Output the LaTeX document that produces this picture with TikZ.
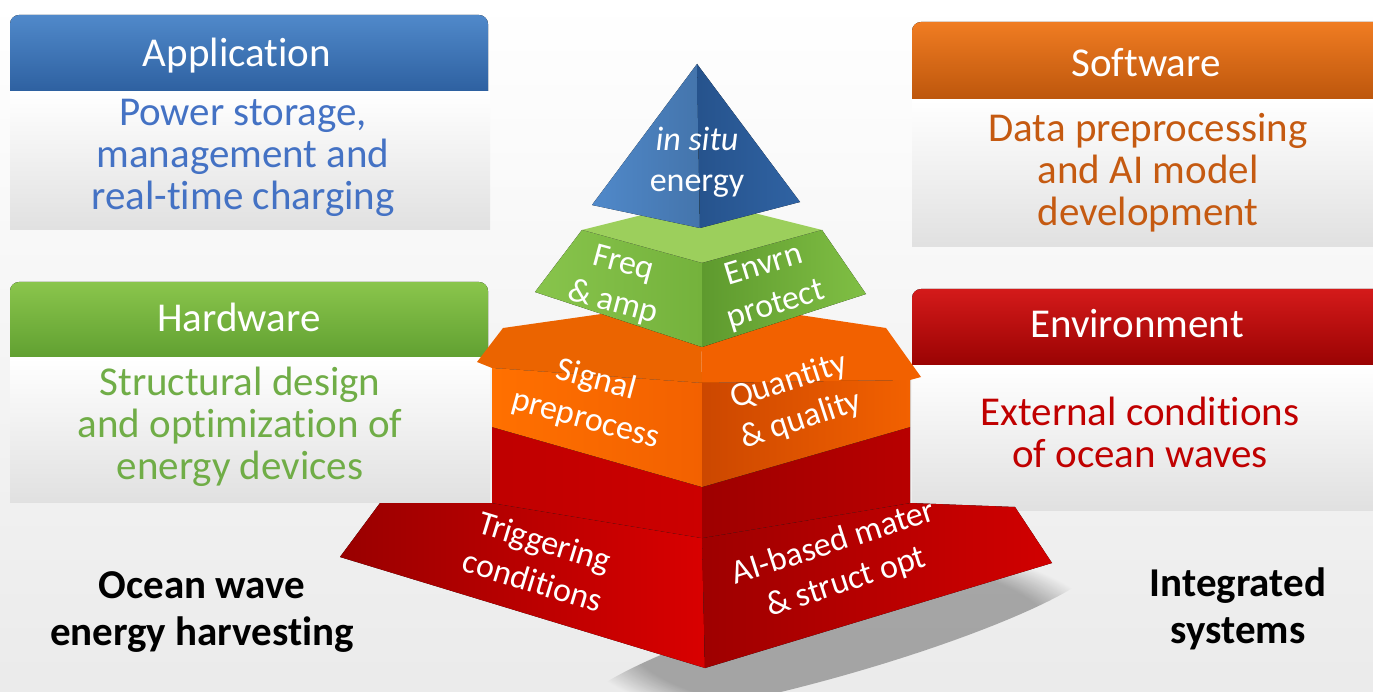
\documentclass[tikz,border=0pt]{standalone}
\usepackage{fontspec}
\setmainfont{Carlito}[Ligatures={NoCommon,NoContextual},RawFeature={-liga;-clig}]
\usepackage{tikz}
\usetikzlibrary{fadings}
\definecolor{apptop}{HTML}{5089CA}
\definecolor{appbot}{HTML}{2A5C9C}
\definecolor{apptext}{HTML}{4472C4}
\definecolor{softop}{HTML}{F07C22}
\definecolor{sofbot}{HTML}{B7520A}
\definecolor{softext}{HTML}{C55A11}
\definecolor{hwtop}{HTML}{8AC54C}
\definecolor{hwbot}{HTML}{5C9C2E}
\definecolor{hwtext}{HTML}{70AD47}
\definecolor{envtop}{HTML}{D41A1A}
\definecolor{envbot}{HTML}{930000}
\definecolor{envtext}{HTML}{C00000}
\definecolor{gtop}{HTML}{9CCF5C}
\definecolor{gleftA}{HTML}{88C44C}
\definecolor{gleftB}{HTML}{74B23C}
\definecolor{grightA}{HTML}{5E9A2E}
\definecolor{grightB}{HTML}{80BF44}

\begin{document}
\begin{tikzpicture}[x=1pt,y=-1pt,
  headtxt/.style={text=white,font=\fontsize{41}{42}\selectfont},
  bodytxt/.style={align=center,font=\fontsize{41}{42}\selectfont},
  facetxt/.style={text=white,align=center,font=\fontsize{34}{41}\selectfont},
  panel/.style={top color=white,bottom color=black!12}]
\useasboundingbox (0,0) rectangle (1373,692);
\fill[top color=white,bottom color=black!8] (0,0) rectangle (1373,692);

% side panels
\fill[rounded corners=9pt,top color=apptop,bottom color=appbot] (10,15) rectangle (488,100);
\fill[panel] (10,92) rectangle (490,230);
\node[headtxt] (app) at (237,56) {Application};
\node[bodytxt,text=apptext] (appbody) at (243,158) {Power storage,\\management and\\real-time charging};

\fill[rounded corners=9pt,top color=hwtop,bottom color=hwbot] (10,282) rectangle (488,366);
\fill[panel] (10,358) rectangle (490,502);
\node[headtxt] (hw) at (239,317) {Hardware};
\node[bodytxt,text=hwtext] (hwbody) at (240,427) {Structural design\\and optimization of\\energy devices};

\fill[rounded corners=9pt,top color=softop,bottom color=sofbot] (912,22) rectangle (1390,108);
\fill[panel] (912,100) rectangle (1373,247);
\node[headtxt] (sof) at (1146,63) {Software};
\node[bodytxt,text=softext] (sofbody) at (1148,173) {Data preprocessing\\and AI model\\development};

\fill[rounded corners=9pt,top color=envtop,bottom color=envbot] (912,289) rectangle (1390,374);
\fill[panel] (912,366) rectangle (1373,510);
\node[headtxt] (env) at (1137,324) {Environment};
\node[bodytxt,text=envtext] (envbody) at (1140,432) {External conditions\\of ocean waves};

% shadow and red base
\fill[black,opacity=.3,path fading=circle with fuzzy edge 20 percent,rotate around={16:(840,635)}] (840,635) ellipse [x radius=270,y radius=40];
\fill[left color=red!60!black,right color=red!85!black] (340,557) -- (380,503) -- (492,503) -- (702,538) -- (705,668) -- cycle;
\fill[left color=red!62!black,right color=red!82!black] (702,538) -- (910,503) -- (1015,507) -- (1052,563) -- (705,668) -- cycle;
% red block
\fill[left color=red!75!black,right color=red!80!black] (492,427) -- (702,487) -- (702,538) -- (492,503) -- cycle;
\fill[left color=red!62!black,right color=red!72!black] (702,487) -- (910,427) -- (910,503) -- (702,538) -- cycle;
% orange layer
\fill[color=orange!85!red!92!black] (477,362) -- (503,328) -- (700,300) -- (702,383) -- (492,368) -- cycle;
\fill[color=orange!80!red!95!black] (702,383) -- (700,300) -- (886,328) -- (921,377) -- (910,380) -- cycle;
\fill[left color=orange!88!red,right color=orange!80!red!95!black] (492,368) -- (702,383) -- (702,487) -- (492,427) -- cycle;
\fill[left color=orange!70!red!80!black,right color=orange!80!red!95!black] (702,383) -- (910,380) -- (910,427) -- (702,487) -- cycle;
% green layer
\fill[gtop] (582,230) -- (702,200) -- (822,230) -- (702,263) -- cycle;
\fill[left color=gleftA,right color=gleftB] (582,230) -- (702,263) -- (702,347) -- (535,292) -- cycle;
\fill[left color=grightA,right color=grightB] (702,263) -- (822,230) -- (866,294) -- (702,347) -- cycle;
% blue top
\fill[left color=apptop,right color=apptop!85!black] (697,64) -- (592,205) -- (700,228) -- cycle;
\fill[left color=appbot!90!black,right color=appbot!85!apptop] (697,64) -- (700,228) -- (800,202) -- cycle;

\node[facetxt] (insitu) at (697,162) {\textit{in situ}\\energy};
\node[facetxt,rotate=-15] (freq) at (618,284) {Freq\\\& amp};
\node[facetxt,rotate=17] (envrn) at (770,286) {Envrn\\protect};
\node[facetxt,rotate=-15] (signal) at (591,400) {Signal\\preprocess};
\node[facetxt,rotate=18] (quant) at (795,401) {Quantity\\\& quality};
\node[facetxt,rotate=-17] (trig) at (539,561) {Triggering\\conditions};
\node[facetxt,rotate=18] (aimat) at (840,563) {AI-based mater\\\& struct opt};

\node[bodytxt,font=\fontsize{41}{47}\selectfont\bfseries] (ocean) at (202,612) {Ocean wave\\energy harvesting};
\node[bodytxt,font=\fontsize{41}{47}\selectfont\bfseries] (integ) at (1238,609) {Integrated\\systems};
\end{tikzpicture}
\end{document}
